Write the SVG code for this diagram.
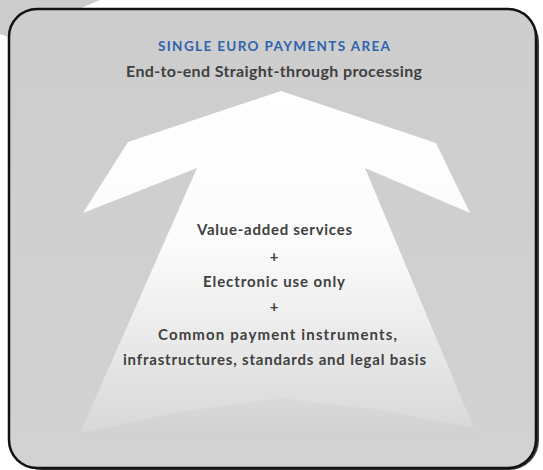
<svg xmlns="http://www.w3.org/2000/svg" width="543" height="470" viewBox="0 0 543 470">
  <defs>
    <linearGradient id="bg" x1="0" y1="0" x2="0" y2="1">
      <stop offset="0" stop-color="#cdcdcd"/>
      <stop offset="1" stop-color="#d2d2d2"/>
    </linearGradient>
    <linearGradient id="arrowFill" gradientUnits="userSpaceOnUse" x1="0" y1="90" x2="0" y2="440">
      <stop offset="0" stop-color="#ffffff"/>
      <stop offset="0.45" stop-color="#fbfbfb"/>
      <stop offset="0.8" stop-color="#e4e4e4"/>
      <stop offset="1" stop-color="#d6d6d6"/>
    </linearGradient>
    <linearGradient id="hill" gradientUnits="userSpaceOnUse" x1="0" y1="398" x2="0" y2="440">
      <stop offset="0" stop-color="#d6d6d6" stop-opacity="0.5"/>
      <stop offset="1" stop-color="#d0d0d0" stop-opacity="1"/>
    </linearGradient>
    <style>
      .t { font-family: "Lato", "Liberation Sans", sans-serif; font-weight: 700; fill: #404040; text-anchor: middle; }
      .title { font-family: "Lato", "Liberation Sans", sans-serif; font-weight: 700; fill: #2e63ad; text-anchor: middle; font-size: 13.5px; }
    </style>
  </defs>

  <rect x="0" y="0" width="543" height="470" fill="#ffffff"/>
  <polygon points="0,0 100,0 12,38 0,34" fill="#cccccc"/>

  <g id="frame">
    <rect x="12" y="12" width="527" height="458" rx="30" ry="30" fill="#3a3a3a"/>
    <rect x="9" y="9" width="527" height="459" rx="28" ry="28" fill="url(#bg)" stroke="#111111" stroke-width="2.5"/>
  </g>

  <g id="arrow">
    <polygon points="281,91 436,143 470,213 365,168 476,433 80,433 197,168 83,213 128,142" fill="url(#arrowFill)"/>
    <polygon points="80,433 180,412 280,398 380,410 476,428 476,440 80,440" fill="url(#hill)"/>
  </g>

  <g id="header">
    <text class="title" x="274" y="51" textLength="232" lengthAdjust="spacing">SINGLE EURO PAYMENTS AREA</text>
    <text class="t" x="274" y="77" font-size="16" textLength="296" lengthAdjust="spacing">End-to-end Straight-through processing</text>
  </g>

  <g id="arrow-text">
    <text class="t" x="274.5" y="235" font-size="15" textLength="155" lengthAdjust="spacing">Value-added services</text>
    <text class="t" x="274" y="262" font-size="15">+</text>
    <text class="t" x="274" y="287" font-size="15" textLength="142" lengthAdjust="spacing">Electronic use only</text>
    <text class="t" x="274" y="312" font-size="15">+</text>
    <text class="t" x="277.5" y="340" font-size="15" textLength="239" lengthAdjust="spacing">Common payment instruments,</text>
    <text class="t" x="274.5" y="365" font-size="15" textLength="303" lengthAdjust="spacing">infrastructures, standards and legal basis</text>
  </g>
</svg>
